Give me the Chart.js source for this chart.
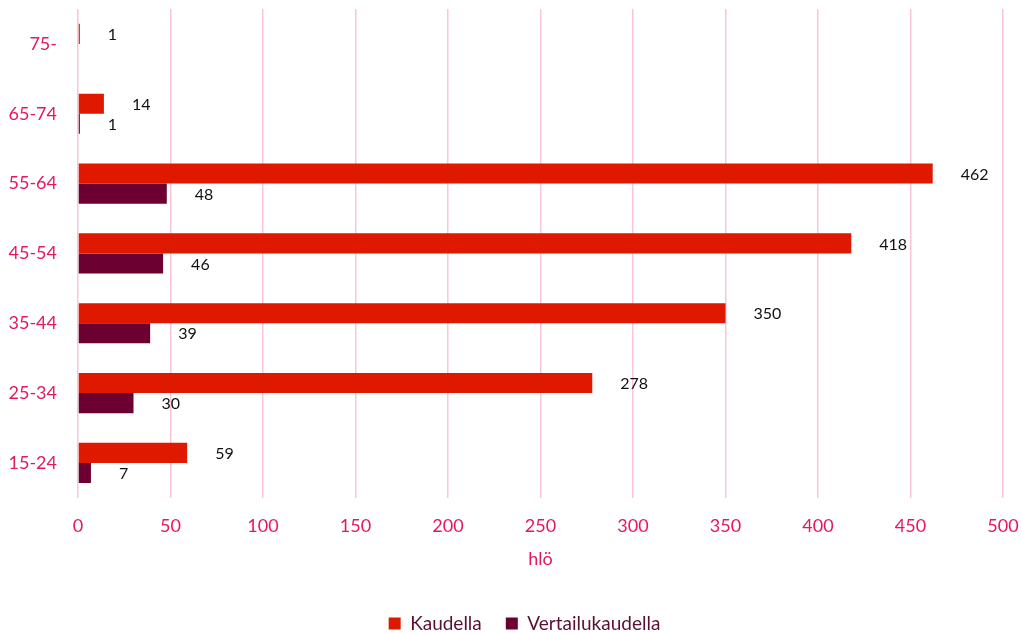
<!DOCTYPE html>
<html>
<head>
<meta charset="utf-8">
<script src="https://cdn.jsdelivr.net/npm/chart.js@4/dist/chart.umd.min.js"></script>
<style>
  html, body { margin: 0; padding: 0; background: #fff; }
  #wrap { width: 1022px; height: 633px; }
</style>
</head>
<body>
<div id="wrap"><canvas id="myChart"></canvas></div>
<script>
const ageGroups = ["75-", "65-74", "55-64", "45-54", "35-44", "25-34", "15-24"];
const kaudella = [1, 14, 462, 418, 350, 278, 59];
const vertailukaudella = [null, 1, 48, 46, 39, 30, 7];
const xTicks = [0, 50, 100, 150, 200, 250, 300, 350, 400, 450, 500];

const pink = "#e5185d";

// values beside the bars
const valueLabels = {
  id: "valueLabels",
  afterDatasetsDraw(chart) {
    const ctx = chart.ctx;
    ctx.save();
    ctx.font = "16px Lato";
    ctx.fillStyle = "#111";
    ctx.textAlign = "left";
    ctx.textBaseline = "middle";
    chart.data.datasets.forEach((ds, i) => {
      chart.getDatasetMeta(i).data.forEach((bar, j) => {
        const v = ds.data[j];
        if (v === null || v === undefined) return;
        ctx.fillText(String(v), bar.x + 28, bar.y + 1);
      });
    });
    ctx.restore();
  },
};

// nudge the legend a little to the left, like the original
const legendShift = {
  id: "legendShift",
  afterLayout(chart) {
    if (!chart.legend) return;
    chart.legend.left -= 16;
    chart.legend.right -= 16;
  },
};

new Chart(document.getElementById("myChart"), {
  type: "bar",
  data: {
    labels: ageGroups,
    datasets: [
      {
        label: "Kaudella",
        data: kaudella,
        backgroundColor: "#de1900",
        categoryPercentage: 0.575,
        barPercentage: 1,
      },
      {
        label: "Vertailukaudella",
        data: vertailukaudella,
        backgroundColor: "#6c0030",
        categoryPercentage: 0.575,
        barPercentage: 1,
      },
    ],
  },
  options: {
    indexAxis: "y",
    responsive: true,
    maintainAspectRatio: false,
    animation: false,
    layout: { padding: { top: 9, right: 19, left: 0, bottom: -10 } },
    scales: {
      x: {
        min: 0,
        max: 500,
        afterBuildTicks: (scale) => {
          scale.ticks = xTicks.map((v) => ({ value: v }));
        },
        afterFit: (scale) => {
          scale.paddingLeft = 0;
          scale.paddingRight = 0;
        },
        grid: { color: "#fcc4d8", lineWidth: 1.5, drawTicks: false },
        border: { display: false },
        ticks: { color: pink, font: { family: "Lato", size: 18 }, padding: 18 },
        title: {
          display: true,
          text: "hlö",
          color: pink,
          font: { family: "Lato", size: 18 },
          padding: { top: -7, bottom: 20 },
        },
      },
      y: {
        afterFit: (scale) => {
          scale.width = 78;
          scale.paddingTop = 0;
          scale.paddingBottom = 0;
        },
        grid: { display: false, drawTicks: false },
        border: { display: false },
        ticks: { color: pink, font: { family: "Lato", size: 18 }, padding: 21 },
      },
    },
    plugins: {
      legend: {
        position: "bottom",
        fullSize: false,
        labels: {
          color: "#5a1030",
          font: { family: "Lato", size: 19 },
          boxWidth: 12,
          boxHeight: 12,
          padding: 24,
        },
      },
      tooltip: { enabled: false },
    },
  },
  plugins: [valueLabels, legendShift],
});
</script>
</body>
</html>
